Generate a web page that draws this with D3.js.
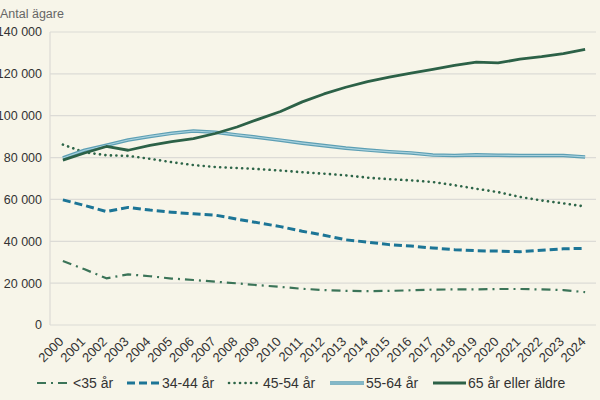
<!DOCTYPE html>
<html>
<head>
<meta charset="utf-8">
<script src="https://cdn.jsdelivr.net/npm/d3@7"></script>
<style>
  body { margin: 0; background: #f7f5e9; }
  svg { display: block; font-family: "Liberation Sans", Arial, sans-serif; }
</style>
</head>
<body>
<svg id="chart" width="600" height="400"></svg>
<script>
var years = ["2000","2001","2002","2003","2004","2005","2006","2007","2008","2009","2010","2011","2012",
             "2013","2014","2015","2016","2017","2018","2019","2020","2021","2022","2023","2024"];
var under35 = [30600,26600,22300,24200,23300,22200,21500,20700,19900,19000,18200,17300,16700,
               16300,16200,16300,16600,16900,17000,17000,17200,17200,17000,16700,15700];
var age3444 = [59800,57100,54200,56200,54900,53900,53100,52500,50600,48800,47000,44800,42900,
               40700,39600,38400,37700,36800,36000,35500,35300,35000,35700,36400,36600];
var age4554 = [86200,82500,81100,80800,79400,77800,76400,75500,75000,74500,73800,73000,72300,
               71500,70400,69700,69100,68300,66800,65100,63500,61200,59500,58100,56600];
var age5564 = [79800,83500,85900,88400,90100,91600,92700,92100,90800,89600,88300,86900,85700,
               84500,83600,82800,82200,81200,81000,81300,81100,81000,81000,81000,80300];
var age65 = [78800,82200,85300,83500,85800,87600,89000,91500,94600,98400,102000,106600,110400,
             113600,116300,118400,120300,122200,124000,125600,125200,127000,128200,129700,131700];
var yTicks = [0,20000,40000,60000,80000,100000,120000,140000];

var series = [
  { name: "<35 år", values: under35, color: "#3b7458", width: 2.2, dash: "9,5,2,5" },
  { name: "34-44 år", values: age3444, color: "#1c7596", width: 3, dash: "8,4" },
  { name: "45-54 år", values: age4554, color: "#2d6548", width: 2.6, dash: "0.1,5.4", cap: "round" },
  { name: "55-64 år", values: age5564, color: "#5d9fb4", width: 3.6, inner: "#a9d2de" },
  { name: "65 år eller äldre", values: age65, color: "#2c6147", width: 2.8 }
];

var svg = d3.select("#chart");
var plotLeft = 52, plotRight = 596, plotTop = 32, plotBottom = 325;

var x = d3.scalePoint().domain(years).range([plotLeft, plotRight]).padding(0.5);
var y = d3.scaleLinear().domain([0, 140000]).range([plotBottom, plotTop]);
var fmt = function (d) { return d3.format(",")(d).replace(/,/g, " "); };

// gridlines
svg.selectAll(".grid").data(yTicks).enter().append("line")
  .attr("x1", 50).attr("x2", plotRight)
  .attr("y1", function (d) { return y(d); }).attr("y2", function (d) { return y(d); })
  .attr("stroke", "#dcdbd6").attr("stroke-width", 1.2);
svg.append("line").attr("x1", 50).attr("x2", 50).attr("y1", plotTop).attr("y2", plotBottom)
  .attr("stroke", "#dcdbd6").attr("stroke-width", 1.2);

// y labels
svg.selectAll(".ylab").data(yTicks).enter().append("text")
  .attr("x", 42).attr("y", function (d) { return y(d); }).attr("dy", "0.35em")
  .attr("text-anchor", "end").attr("font-size", 12.5).attr("fill", "#333")
  .text(fmt);

svg.append("text").attr("x", 0).attr("y", 18).attr("font-size", 12.5).attr("fill", "#666")
  .text("Antal ägare");

// x labels
svg.selectAll(".xlab").data(years).enter().append("text")
  .attr("transform", function (d) { return "translate(" + (x(d) - 5) + "," + 336 + ") rotate(-45)"; })
  .attr("text-anchor", "end").attr("dy", "0.7em").attr("font-size", 13).attr("fill", "#333")
  .text(function (d) { return d; });

var line = d3.line().x(function (d, i) { return x(years[i]); }).y(function (d) { return y(d); });

series.forEach(function (s) {
  svg.append("path").datum(s.values).attr("d", line).attr("fill", "none")
    .attr("stroke", s.color).attr("stroke-width", s.width)
    .attr("stroke-dasharray", s.dash || null).attr("stroke-linecap", s.cap || "butt")
    .attr("stroke-linejoin", "round");
  if (s.inner) {
    svg.append("path").datum(s.values).attr("d", line).attr("fill", "none")
      .attr("stroke", s.inner).attr("stroke-width", 1.2).attr("stroke-linejoin", "round");
  }
});

// legend
var legendX = [37, 127, 229, 330, 433];
var legendW = [33, 32, 28, 34, 33];
var legendText = [73, 162, 263, 366, 468];
series.forEach(function (s, i) {
  var g = svg.append("g").attr("transform", "translate(0,383)");
  g.append("line").attr("x1", legendX[i]).attr("x2", legendX[i] + legendW[i]).attr("y1", 0).attr("y2", 0)
    .attr("stroke", s.color).attr("stroke-width", s.width)
    .attr("stroke-dasharray", s.dash || null).attr("stroke-linecap", s.cap || "butt");
  if (s.inner) {
    g.append("line").attr("x1", legendX[i]).attr("x2", legendX[i] + legendW[i]).attr("y1", 0).attr("y2", 0)
      .attr("stroke", s.inner).attr("stroke-width", 1.2);
  }
  g.append("text").attr("x", legendText[i]).attr("y", 0).attr("dy", "0.35em")
    .attr("font-size", 14).attr("fill", "#333").text(s.name);
});
</script>
</body>
</html>
